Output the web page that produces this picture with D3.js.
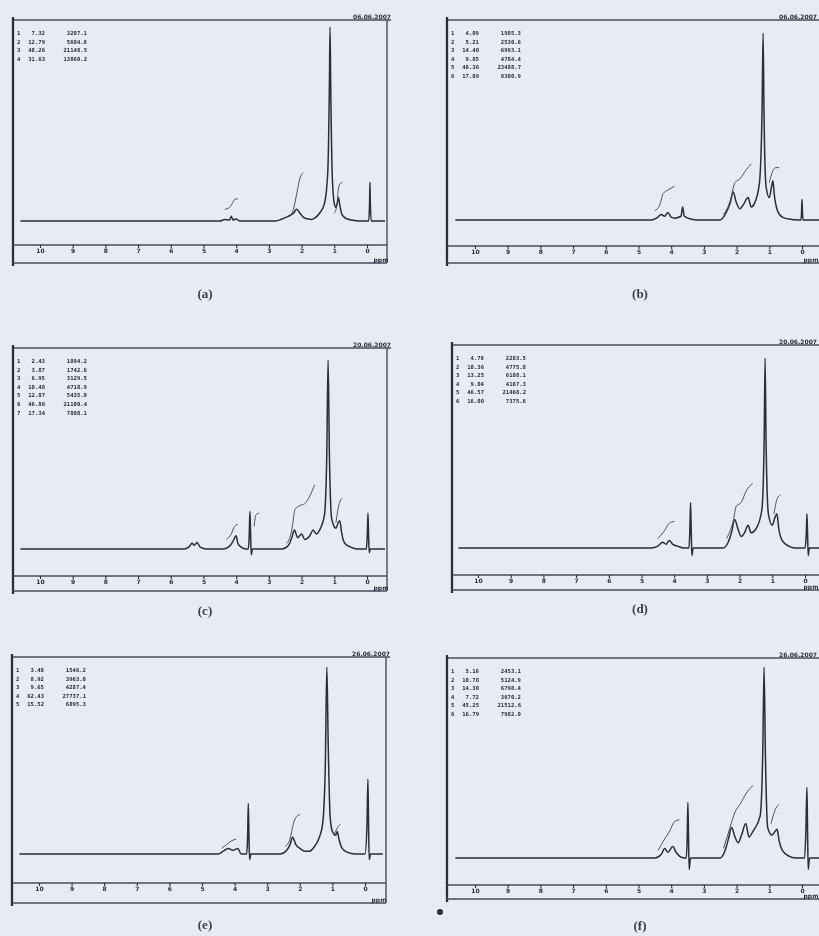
<!DOCTYPE html>
<html>
<head>
<meta charset="utf-8">
<script src="https://cdn.jsdelivr.net/npm/d3@7/dist/d3.min.js"></script>
<style>
  body { margin: 0; background: #e7ebf4; }
  svg { display: block; }
</style>
</head>
<body>
<svg id="chart" width="819" height="936"></svg>
<script>
// chemical shift ticks (ppm)
const ppmTicks = [10, 9, 8, 7, 6, 5, 4, 3, 2, 1, 0];
const panelLabels = ["(a)", "(b)", "(c)", "(d)", "(e)", "(f)"];
const dateLabels = ["06.06.2007", "06.06.2007", "20.06.2007", "20.06.2007", "26.06.2007", "26.06.2007"];

// spectra: [ppm, intensity %]
const spectrumA = [[10.6,0],[4.5,0],[4.35,0.8],[4.2,0.5],[4.15,2.5],[4.1,0.5],[4.0,1],[3.9,0],[2.8,0],[2.6,1],[2.4,2.5],[2.25,4],[2.15,6],[2.05,4],[1.95,2],[1.8,1],[1.7,0.8],[1.6,1.5],[1.45,4],[1.3,9],[1.2,25],[1.15,70],[1.13,100],[1.11,70],[1.06,22],[1.0,9],[0.95,7],[0.9,10],[0.87,12],[0.84,9],[0.78,4],[0.7,2],[0.6,1],[0.4,0.3],[0.1,0],[-0.05,0],[-0.08,10],[-0.09,20],[-0.1,10],[-0.13,0],[-0.55,0]];
const spectrumB = [[10.6,0],[4.6,0],[4.45,1],[4.3,3],[4.2,2],[4.1,4],[4.0,1.5],[3.9,1],[3.7,2],[3.65,7],[3.6,2],[3.4,0.5],[3.2,0],[2.5,0],[2.35,3],[2.2,9],[2.1,15],[2.02,10],[1.9,6],[1.8,8],[1.65,12],[1.55,7],[1.45,9],[1.3,20],[1.22,60],[1.19,100],[1.16,55],[1.1,18],[1.0,12],[0.93,18],[0.89,21],[0.85,14],[0.75,5],[0.6,1.5],[0.4,0.5],[0.1,0],[0.03,0],[0.01,6],[0,11],[-0.01,6],[-0.03,0],[-0.6,0]];
const spectrumC = [[10.6,0],[5.6,0],[5.45,1],[5.35,3],[5.28,2],[5.2,3.5],[5.1,1],[4.9,0],[4.4,0],[4.2,1.5],[4.1,4],[4.0,7],[3.95,3],[3.85,1],[3.7,0],[3.63,0],[3.6,8],[3.58,20],[3.56,8],[3.54,-3],[3.5,0],[2.6,0],[2.4,2],[2.3,6],[2.22,10],[2.12,6],[2.0,8],[1.9,5],[1.75,7],[1.65,10],[1.55,8],[1.45,10],[1.3,18],[1.23,50],[1.19,100],[1.15,50],[1.08,16],[0.95,11],[0.88,14],[0.83,15],[0.78,9],[0.68,3],[0.5,1],[0.3,0],[0.02,0],[-0.01,8],[-0.03,19],[-0.05,6],[-0.07,-2],[-0.1,0],[-0.55,0]];
const spectrumD = [[10.6,0],[4.7,0],[4.5,1],[4.35,3],[4.25,2],[4.15,4],[4.05,2],[3.9,1],[3.7,0],[3.55,0],[3.52,10],[3.5,24],[3.48,10],[3.46,-4],[3.42,0],[2.5,0],[2.35,3],[2.25,8],[2.15,15],[2.05,10],[1.95,6],[1.85,8],[1.74,12],[1.65,8],[1.5,10],[1.32,20],[1.25,55],[1.22,100],[1.19,55],[1.12,18],[1.0,12],[0.92,16],[0.86,18],[0.8,10],[0.7,4],[0.5,1],[0.3,0],[0,0],[-0.04,8],[-0.06,18],[-0.08,6],[-0.1,-4],[-0.13,0],[-0.6,0]];
const spectrumE = [[10.6,0],[4.5,0],[4.35,1.5],[4.2,3],[4.05,2],[3.9,3],[3.8,0],[3.63,0],[3.6,10],[3.58,27],[3.56,10],[3.54,-3],[3.5,0],[2.6,0],[2.4,2],[2.3,5],[2.22,9],[2.12,5],[2.0,3],[1.85,1.5],[1.7,1.5],[1.55,4],[1.4,9],[1.3,16],[1.22,45],[1.17,100],[1.13,60],[1.07,20],[1.0,12],[0.9,10],[0.85,12],[0.8,8],[0.7,3],[0.55,1],[0.3,0],[0.0,0],[-0.06,15],[-0.09,40],[-0.11,15],[-0.13,-3],[-0.17,0],[-0.55,0]];
const spectrumF = [[10.6,0],[4.5,0],[4.3,2],[4.2,5],[4.1,3],[3.95,6],[3.85,3],[3.75,1],[3.6,0],[3.54,0],[3.51,11],[3.49,29],[3.47,11],[3.45,-6],[3.41,0],[2.5,0],[2.35,4],[2.25,10],[2.15,16],[2.05,11],[1.95,8],[1.85,12],[1.72,18],[1.62,11],[1.5,14],[1.28,22],[1.2,55],[1.16,100],[1.12,55],[1.05,16],[0.92,12],[0.82,14],[0.76,15],[0.7,9],[0.6,4],[0.4,1],[0.2,0],[-0.08,0],[-0.12,15],[-0.15,37],[-0.17,15],[-0.19,-6],[-0.23,0],[-0.6,0]];

// integral traces: [ppm, level]
const integralsA = [[[4.35,6],[4.2,7],[4.12,9],[4.05,11],[3.95,11.5]], [[2.4,2],[2.25,6],[2.15,14],[2.05,22],[1.95,25]], [[1.0,4],[0.92,8],[0.88,16],[0.83,19],[0.75,20]]];
const integralsB = [[[4.5,5],[4.35,8],[4.25,14],[4.1,16],[3.9,18]], [[2.4,3],[2.2,10],[2.05,20],[1.9,22],[1.7,27],[1.55,30]], [[1.0,20],[0.9,26],[0.8,28],[0.7,28]]];
const integralsC = [[[4.3,5],[4.15,8],[4.05,12],[3.95,13]], [[3.45,12],[3.4,18],[3.3,19]], [[2.45,3],[2.3,10],[2.2,21],[2.05,23],[1.9,24],[1.75,28],[1.6,34]], [[0.95,14],[0.85,24],[0.75,27]]];
const integralsD = [[[4.5,5],[4.3,9],[4.15,13],[4.0,14]], [[2.4,5],[2.2,14],[2.1,22],[1.95,24],[1.8,30],[1.6,34]], [[0.95,18],[0.85,26],[0.75,28]]];
const integralsE = [[[4.4,3],[4.25,5],[4.1,7],[3.95,8]], [[2.45,4],[2.3,8],[2.2,16],[2.1,20],[2.0,21]], [[0.95,10],[0.85,14],[0.75,16]]];
const integralsF = [[[4.4,4],[4.2,10],[4.05,14],[3.9,19],[3.75,20]], [[2.4,5],[2.2,16],[2.05,24],[1.9,28],[1.7,34],[1.5,38]], [[0.95,18],[0.8,26],[0.7,28]]];

// integral tables printed in the top-left corner
const tableA = [["1","7.32","3207.1"],["2","12.79","5604.8"],["3","48.26","21148.5"],["4","31.63","13860.2"]];
const tableB = [["1","4.09","1985.3"],["2","5.21","2530.6"],["3","14.40","6993.1"],["4","9.85","4784.4"],["5","48.36","23488.7"],["6","17.09","8300.9"]];
const tableC = [["1","2.43","1094.2"],["2","3.87","1742.6"],["3","6.95","3129.5"],["4","10.48","4718.9"],["5","12.07","5435.0"],["6","46.86","21100.4"],["7","17.34","7808.1"]];
const tableD = [["1","4.78","2203.5"],["2","10.36","4775.8"],["3","13.25","6108.1"],["4","9.04","4167.3"],["5","46.57","21468.2"],["6","16.00","7375.6"]];
const tableE = [["1","3.48","1546.2"],["2","8.92","3963.0"],["3","9.65","4287.4"],["4","62.43","27737.1"],["5","15.52","6895.3"]];
const tableF = [["1","5.16","2453.1"],["2","10.78","5124.9"],["3","14.30","6798.4"],["4","7.72","3670.2"],["5","45.25","21512.6"],["6","16.79","7982.0"]];

const spectra = [spectrumA, spectrumB, spectrumC, spectrumD, spectrumE, spectrumF];
const integrals = [integralsA, integralsB, integralsC, integralsD, integralsE, integralsF];
const tables = [tableA, tableB, tableC, tableD, tableE, tableF];

// panel geometry measured on the scan
const frames = [
  {left:13,  right:387, top:20,  peakTop:27,  base:221, axisY:245, bottom:263, x10:40,  x0:367, capX:205, capY:295},
  {left:447, right:822, top:20,  peakTop:33,  base:220, axisY:246, bottom:263, x10:475, x0:802, capX:640, capY:295},
  {left:13,  right:387, top:348, peakTop:360, base:549, axisY:576, bottom:591, x10:40,  x0:367, capX:205, capY:612},
  {left:452, right:827, top:345, peakTop:358, base:548, axisY:575, bottom:590, x10:478, x0:805, capX:640, capY:610},
  {left:12,  right:386, top:657, peakTop:667, base:854, axisY:883, bottom:903, x10:39,  x0:365, capX:205, capY:926},
  {left:447, right:822, top:658, peakTop:667, base:858, axisY:885, bottom:899, x10:475, x0:802, capX:640, capY:927}
];

const W = 819;
const ink = "#2a2e37";
const svg = d3.select("#chart");

svg.append("defs").append("filter")
    .attr("id", "scan")
    .attr("x", "-2%").attr("y", "-2%").attr("width", "104%").attr("height", "104%")
  .append("feGaussianBlur")
    .attr("stdDeviation", 0.65);

const root = svg.append("g").attr("filter", "url(#scan)");

frames.forEach((f, i) => {
  const g = root.append("g");

  const x = d3.scaleLinear().domain([10, 0]).range([f.x10, f.x0]);
  const y = d3.scaleLinear().domain([0, 100]).range([f.base, f.peakTop]);

  // frame
  g.append("line")
      .attr("x1", f.left).attr("x2", f.right + 4)
      .attr("y1", f.top).attr("y2", f.top)
      .attr("stroke", "#484d58").attr("stroke-width", 1.4);
  g.append("line")
      .attr("x1", f.left).attr("x2", f.left)
      .attr("y1", f.top - 3).attr("y2", f.bottom + 3)
      .attr("stroke", ink).attr("stroke-width", 2.3);
  g.append("line")
      .attr("x1", f.right).attr("x2", f.right)
      .attr("y1", f.top).attr("y2", f.bottom)
      .attr("stroke", "#484d58").attr("stroke-width", 1.4);
  g.append("line")
      .attr("x1", f.left).attr("x2", f.right)
      .attr("y1", f.axisY).attr("y2", f.axisY)
      .attr("stroke", "#484d58").attr("stroke-width", 1.3);
  g.append("line")
      .attr("x1", f.left).attr("x2", f.right)
      .attr("y1", f.bottom).attr("y2", f.bottom)
      .attr("stroke", "#484d58").attr("stroke-width", 1.4);

  // ppm axis
  const axis = d3.axisBottom(x)
      .tickValues(ppmTicks)
      .tickSize(3)
      .tickPadding(1)
      .tickFormat(d3.format("d"));
  const ag = g.append("g")
      .attr("transform", `translate(0,${f.axisY})`)
      .call(axis);
  ag.select(".domain").remove();
  ag.selectAll(".tick line").attr("stroke", ink).attr("stroke-width", 1.1);
  ag.selectAll(".tick text")
      .attr("fill", ink)
      .attr("font-family", "DejaVu Sans")
      .attr("font-weight", "bold")
      .attr("font-size", 6);
  g.append("text")
      .attr("x", Math.min(f.x0 + 14, W - 8)).attr("y", f.bottom - 1.5)
      .attr("text-anchor", "middle")
      .attr("font-family", "DejaVu Sans").attr("font-weight", "bold")
      .attr("font-size", 6).attr("fill", ink)
      .text("ppm");

  // spectrum trace
  const line = d3.line()
      .x(d => x(d[0]))
      .y(d => y(d[1]))
      .curve(d3.curveMonotoneX);
  g.append("path")
      .datum(spectra[i])
      .attr("d", line)
      .attr("fill", "none")
      .attr("stroke", ink)
      .attr("stroke-width", 1.5)
      .attr("stroke-linejoin", "round");

  // integral curves
  g.selectAll(".integral")
    .data(integrals[i])
    .enter().append("path")
      .attr("class", "integral")
      .attr("d", line)
      .attr("fill", "none")
      .attr("stroke", "#4c515b")
      .attr("stroke-width", 1);

  // integral table
  const tx = f.left + 4;
  const rows = g.selectAll(".row")
    .data(tables[i])
    .enter().append("g")
      .attr("class", "row")
      .attr("transform", (d, k) => `translate(${tx},${f.top + 15 + k * 8.6})`)
      .attr("font-family", "DejaVu Sans Mono")
      .attr("font-weight", "bold")
      .attr("font-size", 5.6)
      .attr("fill", ink);
  rows.append("text").attr("x", 0).text(d => d[0]);
  rows.append("text").attr("x", 28).attr("text-anchor", "end").text(d => d[1]);
  rows.append("text").attr("x", 70).attr("text-anchor", "end").text(d => d[2]);

  // date stamp
  g.append("text")
      .attr("x", Math.min(f.right + 4, W - 2)).attr("y", f.top - 1)
      .attr("text-anchor", "end")
      .attr("font-family", "DejaVu Sans").attr("font-weight", "bold")
      .attr("font-size", 6).attr("fill", ink)
      .text(dateLabels[i]);

  // caption
  g.append("text")
      .attr("x", f.capX).attr("y", f.capY)
      .attr("text-anchor", "middle")
      .attr("dominant-baseline", "middle")
      .attr("font-family", "Liberation Serif").attr("font-weight", "bold")
      .attr("font-size", 13).attr("fill", "#3a3e48")
      .text(panelLabels[i]);
});

// ink speck on the scan next to (f)
root.append("circle")
    .attr("cx", 440).attr("cy", 912).attr("r", 3)
    .attr("fill", ink);
</script>
</body>
</html>
